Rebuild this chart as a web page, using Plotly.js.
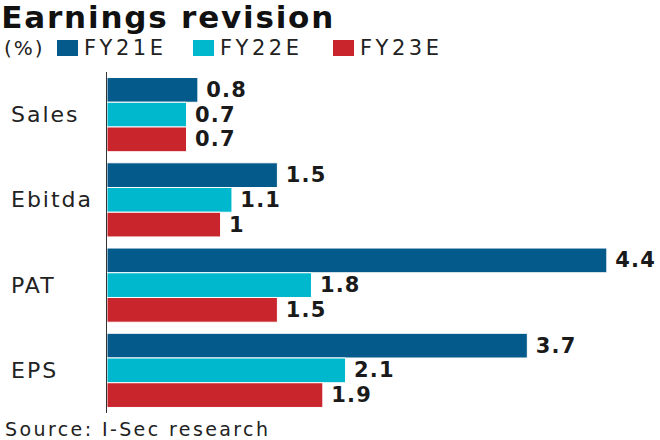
<!DOCTYPE html>
<html>
<head>
<meta charset="utf-8">
<script src="https://cdn.plot.ly/plotly-3.0.1.min.js"></script>
<style>
html,body{margin:0;padding:0;background:#fff;}
#chart{width:660px;height:440px;}
.gtitle{letter-spacing:1.8px;}
.bartext{letter-spacing:1.2px;}
.annotation[data-index="0"] text,.annotation[data-index="1"] text,.annotation[data-index="2"] text,.annotation[data-index="3"] text{letter-spacing:2px;}
.annotation[data-index="4"] text{letter-spacing:2px;}
.annotation[data-index="5"] text,.annotation[data-index="6"] text,.annotation[data-index="7"] text{letter-spacing:3.5px;}
.annotation[data-index="8"] text{letter-spacing:2.4px;}
</style>
</head>
<body>
<div id="chart"></div>
<script>
const categories = ["Sales", "Ebitda", "PAT", "EPS"];
const seriesNames = ["FY21E", "FY22E", "FY23E"];
const fy21 = [0.8, 1.5, 4.4, 3.7];
const fy22 = [0.7, 1.1, 1.8, 2.1];
const fy23 = [0.7, 1.0, 1.5, 1.9];
const colors = ["#045a8b", "#00b8cd", "#c9252c"];

const W = 660, H = 440;
const M = {l: 107, r: 0, t: 72, b: 27};
const pw = W - M.l - M.r, ph = H - M.t - M.b;
const px = x => (x - M.l) / pw;
const py = y => (H - M.b - y) / ph;

const FONT = "DejaVu Sans";
const seriesVals = [fy21, fy22, fy23];

const traces = seriesVals.map((vals, i) => ({
  type: "bar",
  orientation: "h",
  name: seriesNames[i],
  y: categories,
  x: vals,
  marker: {color: colors[i], line: {color: "#ffffff", width: 1}},
  text: vals.map(v => String(v)),
  texttemplate: "\u2009%{text}",
  textposition: "outside",
  constraintext: "none",
  cliponaxis: false,
  textfont: {family: FONT, size: 21, color: "#1a1a1a", weight: "bold"},
  hoverinfo: "skip"
}));

const annotations = [];
categories.forEach(c => {
  annotations.push({
    xref: "paper", yref: "y", x: px(9), y: c, xanchor: "left", yanchor: "middle", align: "left",
    text: c, showarrow: false, font: {family: FONT, size: 22, color: "#222"}
  });
});
// legend
const legX = [57, 193, 333];
const shapes = [];
annotations.push({xref: "paper", yref: "paper", x: px(2), y: py(48), xanchor: "left", yanchor: "middle", align: "left",
  text: "(%)", showarrow: false, font: {family: FONT, size: 20, color: "#222"}});
seriesNames.forEach((n, i) => {
  shapes.push({type: "rect", xref: "paper", yref: "paper",
    x0: px(legX[i]), x1: px(legX[i] + 21), y0: py(56), y1: py(40),
    fillcolor: colors[i], line: {width: 0}});
  annotations.push({xref: "paper", yref: "paper", x: px(legX[i] + 25), y: py(48), xanchor: "left", yanchor: "middle", align: "left",
    text: n, showarrow: false, font: {family: FONT, size: 21, color: "#222"}});
});
annotations.push({xref: "paper", yref: "paper", x: px(3), y: py(429), xanchor: "left", yanchor: "middle", align: "left",
  text: "Source: I-Sec research", showarrow: false, font: {family: FONT, size: 19, color: "#222"}});

const layout = {
  width: W, height: H,
  margin: M,
  paper_bgcolor: "#fff", plot_bgcolor: "#fff",
  title: {text: "Earnings revision", x: 0.002, xref: "container", xanchor: "left",
    y: 1 - 17 / H, yref: "container", yanchor: "middle",
    font: {family: FONT, size: 31, color: "#111", weight: "bold"}},
  showlegend: false,
  barmode: "group",
  bargap: 0.13,
  bargroupgap: 0,
  xaxis: {range: [0, pw / 113.6], visible: false, fixedrange: true},
  yaxis: {type: "category", autorange: "reversed", showline: true, linecolor: "#333", linewidth: 1,
    showticklabels: false, ticks: "", showgrid: false, zeroline: false, fixedrange: true},
  annotations: annotations,
  shapes: shapes
};

Plotly.newPlot("chart", traces, layout, {displayModeBar: false, staticPlot: true});
</script>
</body>
</html>
